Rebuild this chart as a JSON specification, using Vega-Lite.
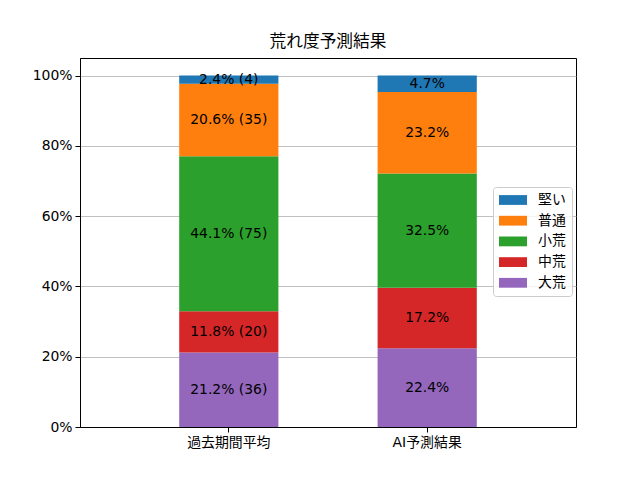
{
  "$schema": "https://vega.github.io/schema/vega-lite/v6.json",
  "autosize": {"type": "none"},
  "padding": {"left": 80, "top": 58, "right": 64, "bottom": 53},
  "width": 496,
  "height": 369,
  "background": "white",
  "title": {
    "text": "荒れ度予測結果",
    "fontSize": 16.7,
    "fontWeight": "normal",
    "font": "DejaVu Sans, Noto Sans CJK JP",
    "color": "black",
    "offset": 7
  },
  "data": {
    "values": [
      {"x": "過去期間平均", "cat": "大荒", "k": 1, "v": 21.18, "label": "21.2% (36)"},
      {"x": "過去期間平均", "cat": "中荒", "k": 2, "v": 11.76, "label": "11.8% (20)"},
      {"x": "過去期間平均", "cat": "小荒", "k": 3, "v": 44.12, "label": "44.1% (75)"},
      {"x": "過去期間平均", "cat": "普通", "k": 4, "v": 20.59, "label": "20.6% (35)"},
      {"x": "過去期間平均", "cat": "堅い", "k": 5, "v": 2.35, "label": "2.4% (4)"},
      {"x": "AI予測結果", "cat": "大荒", "k": 1, "v": 22.4, "label": "22.4%"},
      {"x": "AI予測結果", "cat": "中荒", "k": 2, "v": 17.2, "label": "17.2%"},
      {"x": "AI予測結果", "cat": "小荒", "k": 3, "v": 32.5, "label": "32.5%"},
      {"x": "AI予測結果", "cat": "普通", "k": 4, "v": 23.2, "label": "23.2%"},
      {"x": "AI予測結果", "cat": "堅い", "k": 5, "v": 4.7, "label": "4.7%"}
    ]
  },
  "transform": [
    {"stack": "v", "groupby": ["x"], "sort": [{"field": "k", "order": "ascending"}], "as": ["v0", "v1"]},
    {"calculate": "(datum.v0 + datum.v1) / 2", "as": "mid"}
  ],
  "encoding": {
    "x": {
      "field": "x",
      "type": "nominal",
      "sort": ["過去期間平均", "AI予測結果"],
      "scale": {"paddingInner": 0.5, "paddingOuter": 0.5},
      "axis": {"title": null, "labelAngle": 0, "grid": false}
    }
  },
  "layer": [
    {
      "mark": {"type": "bar"},
      "encoding": {
        "y": {
          "field": "v0",
          "type": "quantitative",
          "scale": {"domain": [0, 105], "nice": false},
          "axis": {
            "title": null,
            "values": [0, 20, 40, 60, 80, 100],
            "labelExpr": "datum.value + '%'",
            "grid": true
          }
        },
        "y2": {"field": "v1"},
        "color": {
          "field": "cat",
          "type": "nominal",
          "scale": {
            "domain": ["堅い", "普通", "小荒", "中荒", "大荒"],
            "range": ["#1f77b4", "#ff7f0e", "#2ca02c", "#d62728", "#9467bd"]
          },
          "legend": {
            "title": null,
            "orient": "none",
            "legendX": 413,
            "legendY": 129,
            "symbolType": "M-2,-0.7H2V0.7H-2Z",
            "symbolSize": 196,
            "symbolStrokeWidth": 0,
            "symbolOffset": 7,
            "labelFontSize": 13.9,
            "labelOffset": 18,
            "rowPadding": 6.7,
            "padding": 6,
            "strokeColor": "#cccccc",
            "fillColor": "rgba(255,255,255,0.8)",
            "cornerRadius": 3
          }
        }
      }
    },
    {
      "mark": {"type": "text", "fontSize": 13.9, "color": "black", "baseline": "middle"},
      "encoding": {
        "y": {"field": "mid", "type": "quantitative"},
        "text": {"field": "label"}
      }
    }
  ],
  "config": {
    "font": "DejaVu Sans, Noto Sans CJK JP",
    "view": {"stroke": "black", "strokeWidth": 1},
    "axis": {
      "labelFont": "DejaVu Sans, Noto Sans CJK JP",
      "labelFontSize": 13.9,
      "labelColor": "black",
      "domainColor": "black",
      "tickColor": "black",
      "tickSize": 5,
      "labelPadding": 3,
      "gridColor": "#b0b0b0",
      "gridWidth": 0.8
    },
    "legend": {
      "labelFont": "DejaVu Sans, Noto Sans CJK JP",
      "labelColor": "black"
    }
  }
}
